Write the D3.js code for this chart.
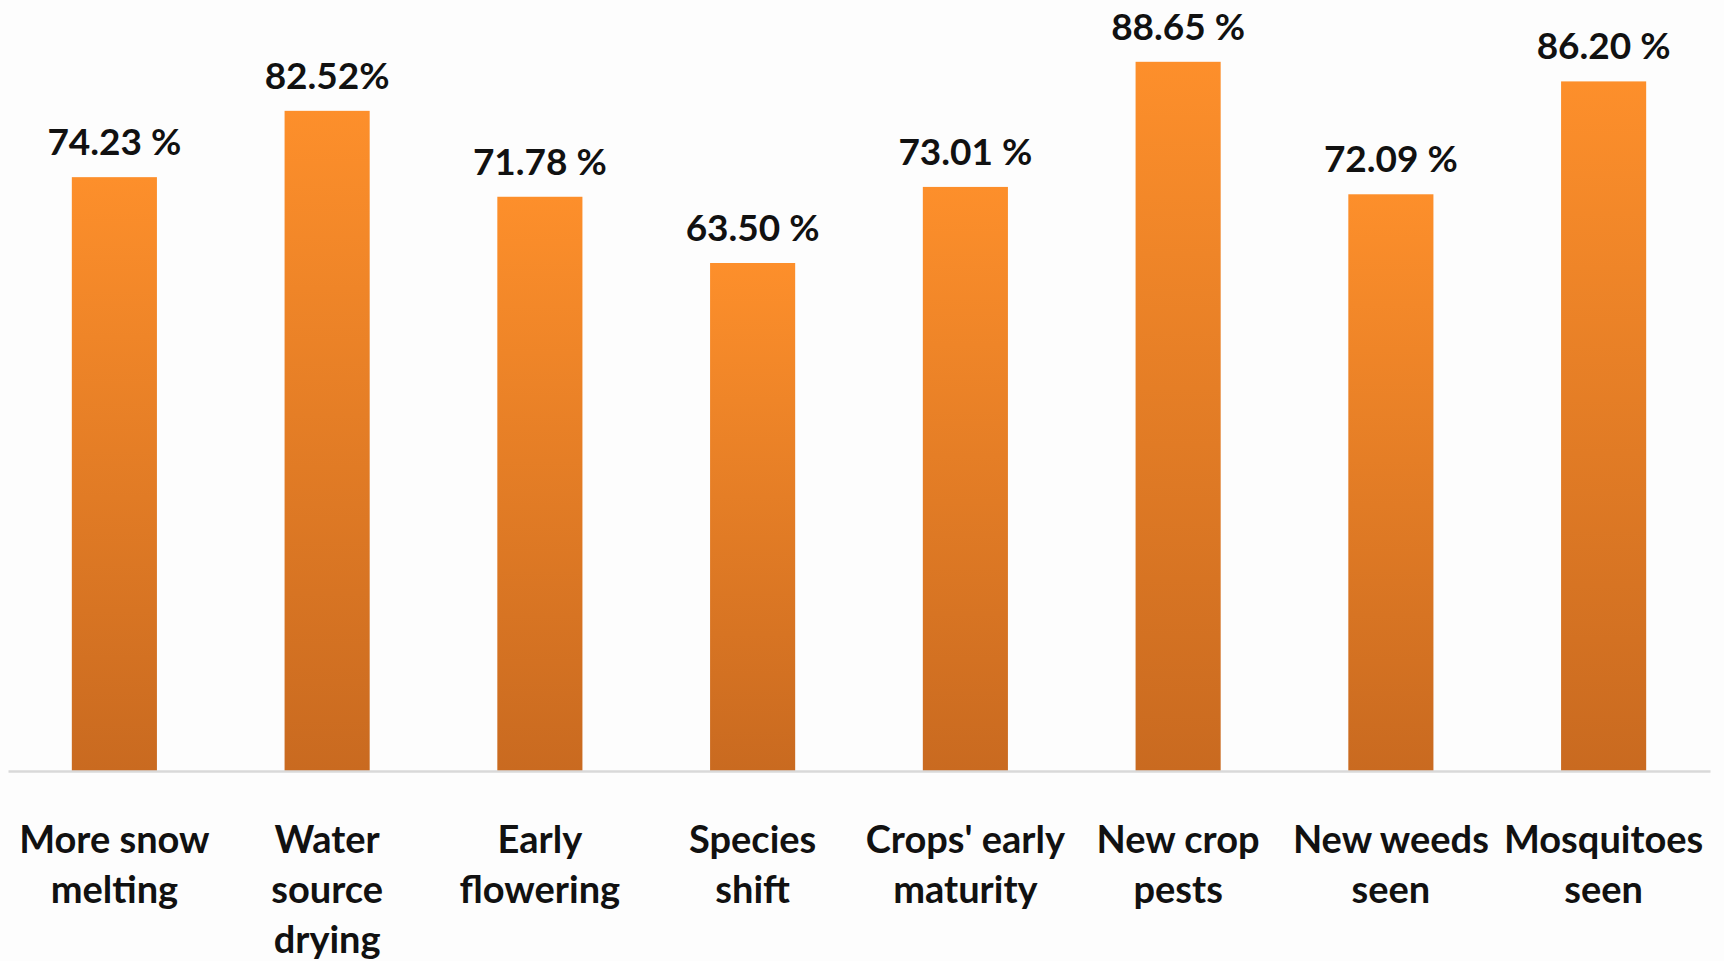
<!DOCTYPE html>
<html>
<head>
<meta charset="utf-8">
<script src="https://cdn.jsdelivr.net/npm/d3@7"></script>
<style>
  html, body { margin: 0; padding: 0; background: #fdfdfd; }
  svg { display: block; }
  text { font-family: Lato, "Open Sans", sans-serif; font-weight: bold; fill: #111; }
</style>
</head>
<body>
<svg id="chart"></svg>
<script>
// data
const categories = ["More snow\nmelting", "Water\nsource\ndrying", "Early\nflowering", "Species\nshift",
  "Crops' early\nmaturity", "New crop\npests", "New weeds\nseen", "Mosquitoes\nseen"];
const values = [74.23, 82.52, 71.78, 63.50, 73.01, 88.65, 72.09, 86.20];
const valueLabels = ["74.23 %", "82.52%", "71.78 %", "63.50 %", "73.01 %", "88.65 %", "72.09 %", "86.20 %"];

const width = 1724;
const height = 961;
const baseY = 771;

const svg = d3.select("#chart")
  .attr("width", width)
  .attr("height", height);

const defs = svg.append("defs");
const grad = defs.append("linearGradient")
  .attr("id", "barGrad")
  .attr("x1", 0).attr("y1", 0)
  .attr("x2", 0).attr("y2", 1);
grad.append("stop").attr("offset", "0%").attr("stop-color", "#fd8f2b");
grad.append("stop").attr("offset", "100%").attr("stop-color", "#c96a20");

const x = d3.scaleBand()
  .domain(categories)
  .range([8, 1710])
  .paddingInner(0.6)
  .paddingOuter(0.3);

const y = d3.scaleLinear()
  .domain([0, 96])
  .range([baseY, baseY - 96 * 8]);

const rows = categories.map((c, i) => ({ cat: c, value: values[i], label: valueLabels[i] }));

// bars
svg.selectAll("rect.bar")
  .data(rows)
  .join("rect")
  .attr("class", "bar")
  .attr("x", d => x(d.cat))
  .attr("y", d => y(d.value))
  .attr("width", x.bandwidth())
  .attr("height", d => y(0) - y(d.value))
  .attr("fill", "url(#barGrad)");

// axis line + category labels
const xAxis = svg.append("g")
  .attr("transform", `translate(0,${baseY})`)
  .call(d3.axisBottom(x).tickSize(0).tickSizeOuter(0));

xAxis.select(".domain")
  .attr("stroke", "#d9d9d9")
  .attr("stroke-width", 2.5);

xAxis.selectAll(".tick text")
  .attr("y", 0)
  .attr("dy", null)
  .style("font-family", "Lato, 'Open Sans', sans-serif")
  .style("font-weight", "bold")
  .style("font-size", "38px")
  .attr("fill", "#111")
  .each(function(d) {
    const t = d3.select(this);
    t.text(null);
    d.split("\n").forEach((line, k) => {
      t.append("tspan")
        .attr("x", 0)
        .attr("y", 82 + k * 50)
        .text(line);
    });
  });

// value labels
svg.selectAll("text.val")
  .data(rows)
  .join("text")
  .attr("class", "val")
  .attr("x", d => x(d.cat) + x.bandwidth() / 2)
  .attr("y", d => y(d.value) - 22)
  .attr("text-anchor", "middle")
  .style("font-size", "37px")
  .text(d => d.label);
</script>
</body>
</html>
